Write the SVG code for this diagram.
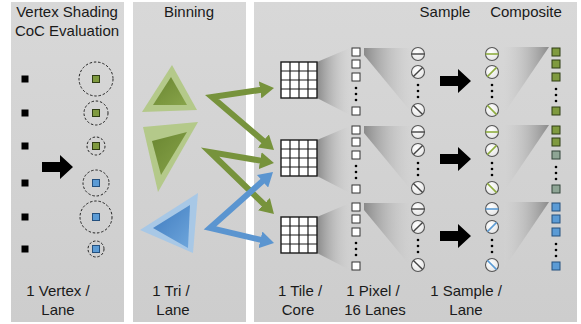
<svg xmlns="http://www.w3.org/2000/svg" width="581" height="324" viewBox="0 0 581 324">
<defs>
<style>
.panel{fill:url(#panelBg)}
.t{font-family:"Liberation Sans",Arial,sans-serif;font-size:15px;fill:#1a1a1a;text-anchor:middle}
.blk{fill:#000}
.dash{fill:none;stroke:#111;stroke-width:0.9;stroke-dasharray:2.5,1.8}
.vg{fill:#7f9a3f;stroke:#2f3d14;stroke-width:1}
.vb{fill:#5b9bd5;stroke:#24507e;stroke-width:1}
.vgr{fill:#8ea595;stroke:#33443a;stroke-width:1}
.px{fill:#fff;stroke:#333;stroke-width:1}
.dot{fill:#000}
.grid{fill:#fff;stroke:#1a1a1a;stroke-width:1.4}
.gl{stroke:#1a1a1a;stroke-width:1.2}
.circ{fill:url(#circFill);stroke:#555;stroke-width:1.1}
.sl{stroke:#444;stroke-width:1.4}
.sg{stroke:#8fae3f;stroke-width:1.6}
.sb{stroke:#5b9bd5;stroke-width:1.6}
.ga{fill:none;stroke:#77933c;stroke-width:6;stroke-linejoin:miter}
.ba{fill:none;stroke:#5b95d0;stroke-width:6;stroke-linejoin:miter}
</style>
<linearGradient id="panelBg" x1="0" y1="0" x2="0" y2="1"><stop offset="0" stop-color="#d8d8d8"/><stop offset="1" stop-color="#cdcdcd"/></linearGradient>
<linearGradient id="fanL" x1="0" y1="0" x2="1" y2="0"><stop offset="0" stop-color="#8a8a8a"/><stop offset="1" stop-color="#d4d4d4" stop-opacity="0.2"/></linearGradient>
<linearGradient id="fanR" x1="0" y1="0" x2="1" y2="0"><stop offset="0" stop-color="#d4d4d4" stop-opacity="0.2"/><stop offset="1" stop-color="#8a8a8a"/></linearGradient>
<linearGradient id="greenTri" x1="0" y1="0" x2="1" y2="1"><stop offset="0" stop-color="#6a8631"/><stop offset="1" stop-color="#88a44a"/></linearGradient>
<linearGradient id="blueTri" x1="0" y1="0" x2="1" y2="1"><stop offset="0" stop-color="#3f7bbf"/><stop offset="1" stop-color="#6ea6dc"/></linearGradient>
<radialGradient id="circFill" cx="0.4" cy="0.35" r="0.7"><stop offset="0" stop-color="#ffffff"/><stop offset="1" stop-color="#e4e4e4"/></radialGradient>
<marker id="headG" markerUnits="userSpaceOnUse" markerWidth="14" markerHeight="17" viewBox="0 0 14 17" refX="4" refY="8.5" orient="auto-start-reverse"><path d="M0,0 L14,8.5 L0,17 z" fill="#77933c"/></marker>
<marker id="headB" markerUnits="userSpaceOnUse" markerWidth="14" markerHeight="17" viewBox="0 0 14 17" refX="4" refY="8.5" orient="auto-start-reverse"><path d="M0,0 L14,8.5 L0,17 z" fill="#5b95d0"/></marker>
<path id="bigArrow" d="M0,-5 H18 V-12 L31,0 L18,12 V5 H0 Z"/>
</defs>

<g id="panel-vertex">
<rect class="panel" x="11" y="2" width="113" height="320"/>
<text class="t" x="67" y="17">Vertex Shading</text>
<text class="t" x="67" y="36">CoC Evaluation</text>
<rect class="blk" x="21.5" y="75.5" width="7" height="7"/>
<rect class="blk" x="21.5" y="109.5" width="7" height="7"/>
<rect class="blk" x="21.5" y="142.5" width="7" height="7"/>
<rect class="blk" x="21.5" y="179.5" width="7" height="7"/>
<rect class="blk" x="21.5" y="213.5" width="7" height="7"/>
<rect class="blk" x="21.5" y="245.5" width="7" height="7"/>
<circle class="dash" cx="96" cy="79" r="17"/>
<circle class="dash" cx="96" cy="113" r="12"/>
<circle class="dash" cx="96" cy="146" r="9"/>
<circle class="dash" cx="96" cy="183" r="13"/>
<circle class="dash" cx="96" cy="217" r="16"/>
<circle class="dash" cx="96" cy="249" r="8"/>
<rect class="vg" x="92.5" y="75.5" width="7" height="7"/>
<rect class="vg" x="92.5" y="109.5" width="7" height="7"/>
<rect class="vg" x="92.5" y="142.5" width="7" height="7"/>
<rect class="vb" x="92.5" y="179.5" width="7" height="7"/>
<rect class="vb" x="92.5" y="213.5" width="7" height="7"/>
<rect class="vb" x="92.5" y="245.5" width="7" height="7"/>
<text class="t" x="58" y="296">1 Vertex /</text>
<text class="t" x="58" y="315">Lane</text>
</g>

<g id="panel-binning">
<rect class="panel" x="133" y="2" width="113" height="320"/>
<text class="t" x="189" y="17">Binning</text>
<polygon points="172,65 142,112 197,110" fill="#b4c98a"/>
<polygon points="171,77 153,105 187,105" fill="url(#greenTri)"/>
<polygon points="143,127 198,122 158,192" fill="#b4c98a"/>
<polygon points="152,141 187,132 161,175" fill="url(#greenTri)"/>
<polygon points="140,230 198,193 193,253" fill="#a8c8e6"/>
<polygon points="153,228 190,205 188,248" fill="url(#blueTri)"/>
<text class="t" x="171" y="296">1 Tri /</text>
<text class="t" x="173" y="315">Lane</text>
</g>

<g id="panel-raster">
<rect class="panel" x="254" y="2" width="323" height="320"/>
<text class="t" x="445" y="17">Sample</text>
<text class="t" x="526" y="17">Composite</text>
<text class="t" x="300" y="296">1 Tile /</text>
<text class="t" x="298" y="315">Core</text>
<text class="t" x="373" y="296">1 Pixel /</text>
<text class="t" x="375" y="315">16 Lanes</text>
<text class="t" x="466" y="296">1 Sample /</text>
<text class="t" x="466" y="315">Lane</text>
</g>

<g id="row-1" transform="translate(0,52)">
<polygon points="317,10 350,-4 350,63 317,46" fill="url(#fanL)"/>
<polygon points="364,-4 412,-4 412,61 364,3" fill="url(#fanL)"/>
<polygon points="504,-5 549,-5 505,60 504,60" fill="url(#fanR)"/>
<rect class="grid" x="281" y="10" width="36" height="36"/>
<path class="gl" d="M290,10V46M299,10V46M308,10V46M281,19H317M281,28H317M281,37H317"/>
<rect class="px" x="352" y="-4" width="8" height="8"/>
<rect class="px" x="352" y="8" width="8" height="8"/>
<rect class="px" x="352" y="21" width="8" height="8"/>
<rect class="px" x="352" y="55" width="8" height="8"/>
<circle class="dot" cx="356" cy="36" r="1.3"/><circle class="dot" cx="356" cy="42" r="1.3"/><circle class="dot" cx="356" cy="48" r="1.3"/>
<circle class="circ" cx="418" cy="2" r="6.5"/><line class="sl" x1="411.5" y1="2" x2="424.5" y2="2"/>
<circle class="circ" cx="418" cy="20" r="6.5"/><line class="sl" x1="413.4" y1="24.6" x2="422.6" y2="15.4"/>
<circle class="circ" cx="418" cy="58" r="6.5"/><line class="sl" x1="413.4" y1="53.4" x2="422.6" y2="62.6"/>
<circle class="dot" cx="418" cy="33" r="1.3"/><circle class="dot" cx="418" cy="39" r="1.3"/><circle class="dot" cx="418" cy="45" r="1.3"/>
<circle class="circ" cx="492" cy="2" r="6.5"/><line class="sg" x1="485.5" y1="2" x2="498.5" y2="2"/>
<circle class="circ" cx="492" cy="20" r="6.5"/><line class="sg" x1="487.4" y1="24.6" x2="496.6" y2="15.4"/>
<circle class="circ" cx="492" cy="58" r="6.5"/><line class="sg" x1="487.4" y1="53.4" x2="496.6" y2="62.6"/>
<circle class="dot" cx="492" cy="33" r="1.3"/><circle class="dot" cx="492" cy="39" r="1.3"/><circle class="dot" cx="492" cy="45" r="1.3"/>
<rect class="vg" x="552" y="-4" width="8" height="8"/>
<rect class="vg" x="552" y="8" width="8" height="8"/>
<rect class="vg" x="552" y="21" width="8" height="8"/>
<rect class="vg" x="552" y="55" width="8" height="8"/>
<circle class="dot" cx="556" cy="37" r="1.3"/><circle class="dot" cx="556" cy="43" r="1.3"/><circle class="dot" cx="556" cy="49" r="1.3"/>
</g>

<g id="row-2" transform="translate(0,130)">
<polygon points="317,10 350,-4 350,63 317,46" fill="url(#fanL)"/>
<polygon points="364,-4 412,-4 412,61 364,3" fill="url(#fanL)"/>
<polygon points="504,-5 549,-5 505,60 504,60" fill="url(#fanR)"/>
<rect class="grid" x="281" y="10" width="36" height="36"/>
<path class="gl" d="M290,10V46M299,10V46M308,10V46M281,19H317M281,28H317M281,37H317"/>
<rect class="px" x="352" y="-4" width="8" height="8"/>
<rect class="px" x="352" y="8" width="8" height="8"/>
<rect class="px" x="352" y="21" width="8" height="8"/>
<rect class="px" x="352" y="55" width="8" height="8"/>
<circle class="dot" cx="356" cy="36" r="1.3"/><circle class="dot" cx="356" cy="42" r="1.3"/><circle class="dot" cx="356" cy="48" r="1.3"/>
<circle class="circ" cx="418" cy="2" r="6.5"/><line class="sl" x1="411.5" y1="2" x2="424.5" y2="2"/>
<circle class="circ" cx="418" cy="20" r="6.5"/><line class="sl" x1="413.4" y1="24.6" x2="422.6" y2="15.4"/>
<circle class="circ" cx="418" cy="58" r="6.5"/><line class="sl" x1="413.4" y1="53.4" x2="422.6" y2="62.6"/>
<circle class="dot" cx="418" cy="33" r="1.3"/><circle class="dot" cx="418" cy="39" r="1.3"/><circle class="dot" cx="418" cy="45" r="1.3"/>
<circle class="circ" cx="492" cy="2" r="6.5"/><line class="sg" x1="485.5" y1="2" x2="498.5" y2="2"/>
<circle class="circ" cx="492" cy="20" r="6.5"/><line class="sg" x1="487.4" y1="24.6" x2="496.6" y2="15.4"/>
<circle class="circ" cx="492" cy="58" r="6.5"/><line class="sg" x1="487.4" y1="53.4" x2="496.6" y2="62.6"/>
<circle class="dot" cx="492" cy="33" r="1.3"/><circle class="dot" cx="492" cy="39" r="1.3"/><circle class="dot" cx="492" cy="45" r="1.3"/>
<rect class="vg" x="552" y="-4" width="8" height="8"/>
<rect class="vg" x="552" y="8" width="8" height="8"/>
<rect class="vgr" x="552" y="21" width="8" height="8"/>
<rect class="vgr" x="552" y="55" width="8" height="8"/>
<circle class="dot" cx="556" cy="37" r="1.3"/><circle class="dot" cx="556" cy="43" r="1.3"/><circle class="dot" cx="556" cy="49" r="1.3"/>
</g>

<g id="row-3" transform="translate(0,207)">
<polygon points="317,10 350,-4 350,63 317,46" fill="url(#fanL)"/>
<polygon points="364,-4 412,-4 412,61 364,3" fill="url(#fanL)"/>
<polygon points="504,-5 549,-5 505,60 504,60" fill="url(#fanR)"/>
<rect class="grid" x="281" y="10" width="36" height="36"/>
<path class="gl" d="M290,10V46M299,10V46M308,10V46M281,19H317M281,28H317M281,37H317"/>
<rect class="px" x="352" y="-4" width="8" height="8"/>
<rect class="px" x="352" y="8" width="8" height="8"/>
<rect class="px" x="352" y="21" width="8" height="8"/>
<rect class="px" x="352" y="55" width="8" height="8"/>
<circle class="dot" cx="356" cy="36" r="1.3"/><circle class="dot" cx="356" cy="42" r="1.3"/><circle class="dot" cx="356" cy="48" r="1.3"/>
<circle class="circ" cx="418" cy="2" r="6.5"/><line class="sl" x1="411.5" y1="2" x2="424.5" y2="2"/>
<circle class="circ" cx="418" cy="20" r="6.5"/><line class="sl" x1="413.4" y1="24.6" x2="422.6" y2="15.4"/>
<circle class="circ" cx="418" cy="58" r="6.5"/><line class="sl" x1="413.4" y1="53.4" x2="422.6" y2="62.6"/>
<circle class="dot" cx="418" cy="33" r="1.3"/><circle class="dot" cx="418" cy="39" r="1.3"/><circle class="dot" cx="418" cy="45" r="1.3"/>
<circle class="circ" cx="492" cy="2" r="6.5"/><line class="sb" x1="485.5" y1="2" x2="498.5" y2="2"/>
<circle class="circ" cx="492" cy="20" r="6.5"/><line class="sb" x1="487.4" y1="24.6" x2="496.6" y2="15.4"/>
<circle class="circ" cx="492" cy="58" r="6.5"/><line class="sb" x1="487.4" y1="53.4" x2="496.6" y2="62.6"/>
<circle class="dot" cx="492" cy="33" r="1.3"/><circle class="dot" cx="492" cy="39" r="1.3"/><circle class="dot" cx="492" cy="45" r="1.3"/>
<rect class="vb" x="552" y="-4" width="8" height="8"/>
<rect class="vb" x="552" y="8" width="8" height="8"/>
<rect class="vb" x="552" y="21" width="8" height="8"/>
<rect class="vb" x="552" y="55" width="8" height="8"/>
<circle class="dot" cx="556" cy="37" r="1.3"/><circle class="dot" cx="556" cy="43" r="1.3"/><circle class="dot" cx="556" cy="49" r="1.3"/>
</g>

<g id="connectors">
<use href="#bigArrow" x="42" y="167"/>
<use href="#bigArrow" x="440" y="81"/>
<use href="#bigArrow" x="440" y="159"/>
<use href="#bigArrow" x="440" y="236"/>
<path class="ga" d="M264.1,89.4 L212,97 L266.4,143.5" marker-start="url(#headG)" marker-end="url(#headG)"/>
<path class="ga" d="M264.1,161.3 L210,152 L266.8,207" marker-start="url(#headG)" marker-end="url(#headG)"/>
<path class="ba" d="M265.5,178.6 L210,228 L264.3,240.7" marker-start="url(#headB)" marker-end="url(#headB)"/>
</g>
</svg>
